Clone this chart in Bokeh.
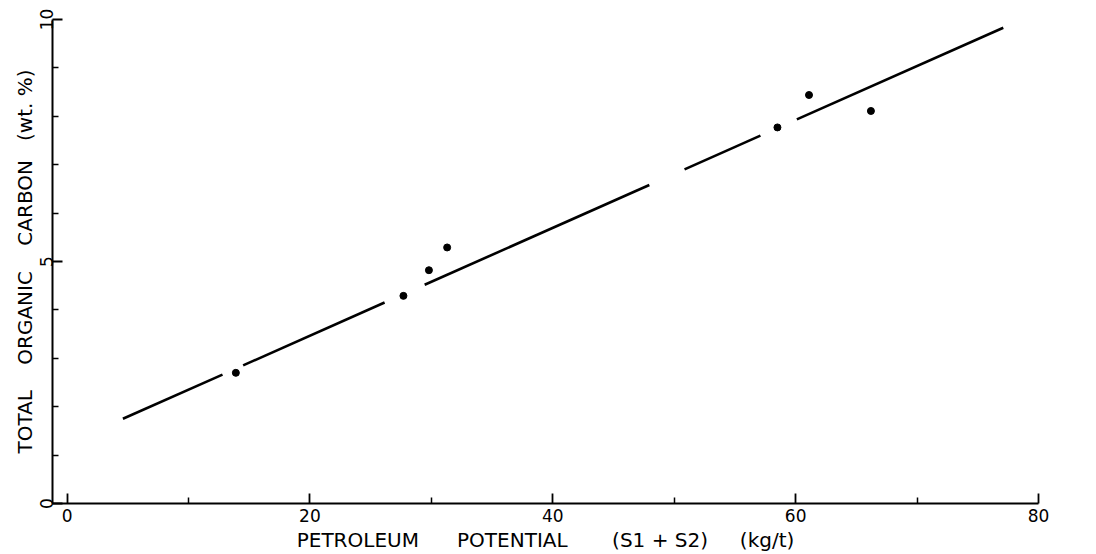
from bokeh.plotting import figure
from bokeh.models import Range1d, FixedTicker, ColumnDataSource
from bokeh.embed import file_html
from bokeh.resources import INLINE

# ---- data ----
petroleum_potential = [13.9, 27.7, 29.8, 31.3, 58.5, 61.1, 66.2]   # S1+S2 (kg/t)
total_organic_carbon = [2.70, 4.29, 4.82, 5.29, 7.77, 8.44, 8.11]  # TOC (wt.%)

# regression line (end points) and the breaks drawn in it
fit_x = [4.6, 77.1]
fit_y = [1.75, 9.83]
fit_breaks = [(12.8, 14.5), (26.15, 29.45), (47.95, 50.85), (57.1, 60.1)]

x_major = [0, 20, 40, 60, 80]
x_minor = [10, 30, 50, 70]
y_major = [0, 5, 10]
y_minor = [1, 2, 3, 4, 6, 7, 8, 9]

NB = "\u00a0"
x_title = "PETROLEUM" + NB * 6 + "POTENTIAL" + NB * 7 + "(S1 + S2)" + NB * 5 + "(kg/t)"
y_title = "TOTAL" + NB * 4 + "ORGANIC" + NB * 4 + "CARBON" + NB * 3 + "(wt. %)"

FONT = "DejaVu Sans"

# ---- build fit-line segments ----
def fit_at(x):
    x0, x1 = fit_x
    y0, y1 = fit_y
    return y0 + (y1 - y0) * (x - x0) / (x1 - x0)

seg_xs, seg_ys = [], []
cur = fit_x[0]
for a, b in fit_breaks:
    seg_xs.append([cur, a])
    seg_ys.append([fit_at(cur), fit_at(a)])
    cur = b
seg_xs.append([cur, fit_x[1]])
seg_ys.append([fit_at(cur), fit_at(fit_x[1])])

p = figure(width=1096, height=554, output_backend="svg", toolbar_location=None,
           x_range=Range1d(-1.2, 80), y_range=Range1d(0, 10),
           min_border_left=52, min_border_right=58, min_border_top=19, min_border_bottom=51)
p.outline_line_color = None
p.grid.visible = False
p.background_fill_color = "white"
p.border_fill_color = "white"

p.multi_line(seg_xs, seg_ys, line_color="black", line_width=2.6)
src = ColumnDataSource(dict(x=petroleum_potential, y=total_organic_carbon))
p.scatter("x", "y", source=src, size=7, color="black")

p.xaxis.ticker = FixedTicker(ticks=x_major, minor_ticks=x_minor)
p.yaxis.ticker = FixedTicker(ticks=y_major, minor_ticks=y_minor)

for ax in (p.xaxis, p.yaxis):
    ax.axis_line_width = 2
    ax.axis_line_color = "black"
    ax.major_tick_in = 10
    ax.major_tick_out = 0
    ax.minor_tick_in = 6
    ax.minor_tick_out = 0
    ax.major_tick_line_width = 1.8
    ax.minor_tick_line_width = 1.5
    ax.major_tick_line_color = "black"
    ax.minor_tick_line_color = "black"
    ax.major_label_text_font = FONT
    ax.major_label_text_font_size = "17px"
    ax.major_label_text_color = "black"
    ax.axis_label_text_font = FONT
    ax.axis_label_text_font_style = "normal"
    ax.axis_label_text_font_size = "20px"
    ax.axis_label_text_color = "black"

p.xaxis.axis_label = x_title
p.yaxis.axis_label = y_title
p.xaxis.major_label_standoff = 5
p.xaxis.axis_label_standoff = 3
p.yaxis.major_label_standoff = 0
p.yaxis.axis_label_standoff = 0
p.yaxis.major_label_orientation = "parallel"

open("out.html", "w").write(file_html(p, INLINE))
